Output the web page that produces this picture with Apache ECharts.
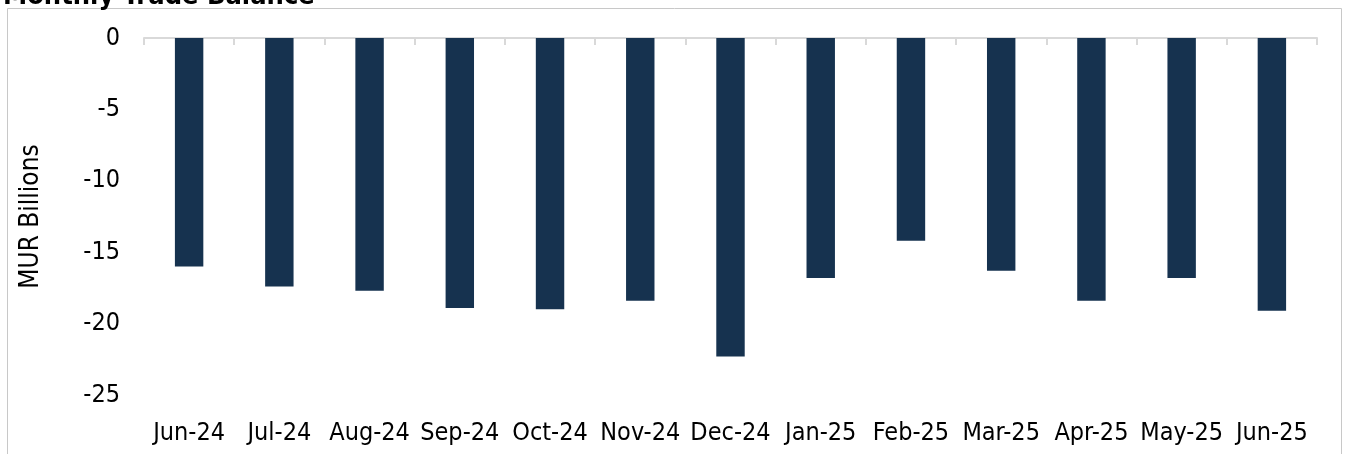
<!DOCTYPE html>
<html>
<head>
<meta charset="utf-8">
<script src="https://cdn.jsdelivr.net/npm/echarts@6/dist/echarts.min.js"></script>
<style>html,body{margin:0;padding:0;background:#fff}#c{width:1346px;height:454px}</style>
</head>
<body>
<div id="c"></div>
<script>
const categories = ['Jun-24','Jul-24','Aug-24','Sep-24','Oct-24','Nov-24','Dec-24','Jan-25','Feb-25','Mar-25','Apr-25','May-25','Jun-25'];
const tradeBalance = [-16.0, -17.4, -17.7, -18.9, -19.0, -18.4, -22.3, -16.8, -14.2, -16.3, -18.4, -16.8, -19.1];
const titleText = 'Monthly Trade Balance';
const yAxisName = 'MUR Billions';

const FONT = '"DejaVu Sans Condensed", "DejaVu Sans", sans-serif';
const chart = echarts.init(document.getElementById('c'), null, {renderer: 'canvas'});
chart.setOption({
  animation: false,
  backgroundColor: '#fff',
  title: {
    text: titleText, left: -2, top: -22,
    textStyle: {fontFamily: FONT, fontWeight: 'bold', fontSize: 27, color: '#000'}
  },
  graphic: [{
    type: 'rect', silent: true, z: -1,
    shape: {x: 7.5, y: 8.5, width: 1334, height: 460},
    style: {fill: 'none', stroke: '#c8c8c8', lineWidth: 1}
  }],
  grid: {left: 144, right: 29, top: 38, bottom: 59, containLabel: false},
  xAxis: [{
    type: 'category', data: categories, position: 'top',
    axisLine: {show: true, onZero: false, lineStyle: {color: '#d9d9d9', width: 2}},
    axisTick: {show: true, inside: true, length: 7, alignWithLabel: false, lineStyle: {color: '#d9d9d9', width: 2}},
    axisLabel: {show: false}, splitLine: {show: false}
  }, {
    type: 'category', data: categories, position: 'bottom',
    axisLine: {show: false}, axisTick: {show: false},
    axisLabel: {show: true, interval: 0, margin: 26, fontFamily: FONT, fontSize: 25, color: '#000'}
  }],
  yAxis: {
    type: 'value', min: -25, max: 0, interval: 5,
    name: yAxisName, nameLocation: 'middle', nameGap: 100, nameRotate: 90,
    nameTextStyle: {fontFamily: FONT, fontSize: 26, color: '#000'},
    axisLine: {show: false}, axisTick: {show: false}, splitLine: {show: false},
    axisLabel: {margin: 24, padding: [4, 0, 0, 0], fontFamily: FONT, fontSize: 25, color: '#000'}
  },
  series: [{
    type: 'bar', data: tradeBalance, xAxisIndex: 0,
    barWidth: '31.5%',
    itemStyle: {color: '#16324F'}
  }]
});
</script>
</body>
</html>
